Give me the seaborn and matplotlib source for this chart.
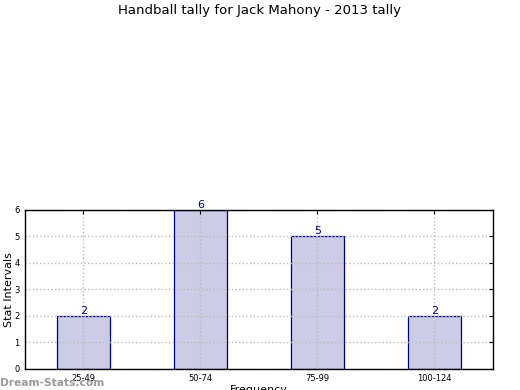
import matplotlib
matplotlib.use("Agg")
import matplotlib.pyplot as plt
import seaborn as sns
import pandas as pd

categories = ["25-49", "50-74", "75-99", "100-124"]
values = [2, 6, 5, 2]
yticks = [0, 1, 2, 3, 4, 5, 6]

sns.set_style("white")
plt.rcParams['font.family'] = ['DejaVu Sans']

df = pd.DataFrame({"cat": categories, "val": values})

fig = plt.figure(figsize=(5.2, 3.9), dpi=100)
ax = fig.add_axes([0.048, 0.054, 0.900, 0.408])
sns.barplot(data=df, x="cat", y="val", ax=ax, color="#ccccE6", saturation=1,
            width=0.45, edgecolor="#000080", linewidth=0.9, zorder=2)
ax.set_xlim(-0.5, 3.5)
ax.set_ylim(0, 6)
ax.set_yticks(yticks)
ax.grid(True, color="#bbbbbb", linestyle=":", linewidth=1.0, zorder=3)
ax.set_axisbelow(False)
for s in ax.spines.values():
    s.set_color("black")
    s.set_linewidth(1.0)
    s.set_zorder(4)
ax.tick_params(direction="in", length=3, labelsize=6, top=True, right=True,
               colors="black", pad=4)
for i, v in enumerate(values):
    ax.text(i, v, str(v), ha="center", va="bottom", color="#000080", fontsize=8)
ax.set_xlabel("Frequency", fontsize=8, labelpad=1, color="black")
ax.set_ylabel("Stat Intervals", fontsize=8, color="black")
ax.yaxis.label.set_va("center")
ax.yaxis.set_label_coords(-0.034, 0.5)
fig.suptitle("Handball tally for Jack Mahony - 2013 tally", fontsize=9.5,
             y=0.99, color="black")
fig.text(0.0, 0.005, "Dream-Stats.com", color="#999999", fontsize=7.7,
         fontweight="bold", ha="left", va="bottom")
fig.savefig("out.png", dpi=100)
